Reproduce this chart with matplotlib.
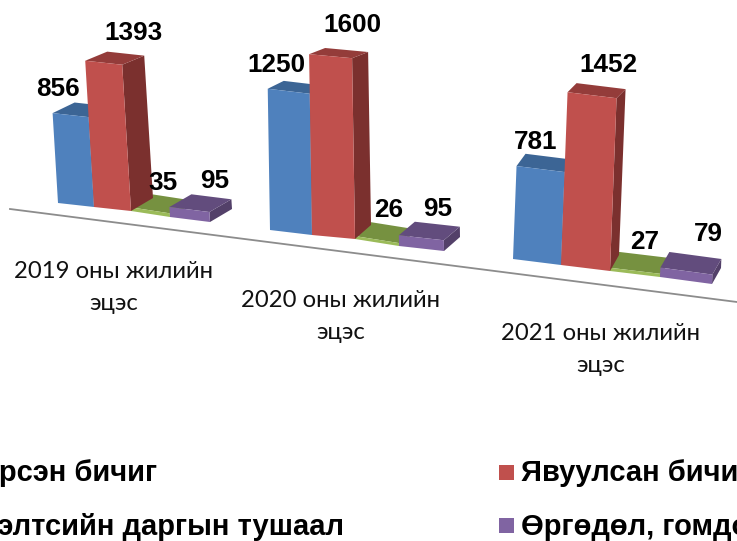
import matplotlib
matplotlib.use("Agg")
import matplotlib.pyplot as plt
from matplotlib.patches import Polygon, Rectangle

# ---- data ----
years = ["2019 оны жилийн\nэцэс", "2020 оны жилийн\nэцэс", "2021 оны жилийн\nэцэс"]
series_names = ["Ирсэн бичиг", "Явуулсан бичиг", "Хэлтсийн даргын тушаал", "Өргөдөл, гомдол"]
received = [856, 1250, 781]
sent = [1393, 1600, 1452]
orders = [35, 26, 27]
complaints = [95, 95, 79]

# ---- styles ----
FRONT = ["#4F81BD", "#C0504D", "#9BBB59", "#8064A2"]
TOP = ["#3C6595", "#943C3A", "#769140", "#624C7D"]
SIDE = ["#33567F", "#7B302E", "#64793A", "#534069"]
SANS = ["Liberation Sans", "DejaVu Sans"]
CAT = ["Lato", "Open Sans", "DejaVu Sans"]

# ---- hand-fitted perspective layout, one entry per group ----
BASE_X = [[58, 94, 131, 170, 210], [270, 312, 355, 399, 444], [513, 561, 610, 660, 712]]
BASE_Y = [[203, 207, 211, 217, 222], [230, 235, 239, 246, 251], [259, 265, 271, 277, 284]]
PX_PER_UNIT = [0.105, 0.113, 0.119]
LEAN = [-0.06, -0.016, 0.038]
DEPTH_X = [22, 16, 9]
DEPTH_Y_LOW = [-13, -14, -16]
DEPTH_Y_HIGH = [-9, -7.5, -10]
LABEL_OFF = [[(-18, -26), (21.5, -30), (12.5, -27), (25, -28.5)],
             [(-15, -26.5), (18.5, -31), (12, -29.5), (16.5, -29)],
             [(-1, -27), (22.5, -30), (10, -29), (22, -37)]]
CAT_POS = [(114, 287.5), (341, 316.5), (601, 349.5)]

fig = plt.figure(figsize=(7.37, 5.41), dpi=100)
ax = fig.add_axes([0, 0, 1, 1])
ax.set_xlim(0, 737)
ax.set_ylim(541, 0)
ax.axis("off")

ax.plot([10, 737], [209, 302], color="#8C8C8C", lw=1.3, zorder=1)

values = [received, sent, orders, complaints]
for g in range(3):
    k, lean = PX_PER_UNIT[g], LEAN[g]
    for s in [0, 2, 1, 3]:
        v = values[s][g]
        h = v * k
        xl, xr = BASE_X[g][s], BASE_X[g][s + 1]
        yl, yr = BASE_Y[g][s], BASE_Y[g][s + 1]
        tl = (xl + lean * h, yl - h)
        tr = (xr + lean * h, yr - h)
        frac = min(h / 150, 1.2)
        dy_top = DEPTH_Y_LOW[g] + (DEPTH_Y_HIGH[g] - DEPTH_Y_LOW[g]) * frac
        dx = DEPTH_X[g]
        dy_low = DEPTH_Y_LOW[g]
        z = 3 + s * 0.1 if s != 2 else 3.05
        ax.add_patch(Polygon([(xr, yr), tr, (tr[0] + dx, tr[1] + dy_top), (xr + dx, yr + dy_low)],
                             closed=True, fc=SIDE[s], ec="none", zorder=z))
        ax.add_patch(Polygon([tl, tr, (tr[0] + dx, tr[1] + dy_top), (tl[0] + dx, tl[1] + dy_top)],
                             closed=True, fc=TOP[s], ec="none", zorder=z))
        ax.add_patch(Polygon([(xl, yl), (xr, yr), tr, tl],
                             closed=True, fc=FRONT[s], ec="none", zorder=z + 0.01))
        ox, oy = LABEL_OFF[g][s]
        cx = (xl + xr) / 2
        ty = (yl + yr) / 2 - h
        ax.text(cx + ox, ty + oy, str(v), ha="center", va="center", fontsize=18.8,
                fontweight="bold", family=SANS, color="black", zorder=6)
    ax.text(CAT_POS[g][0], CAT_POS[g][1], years[g], ha="center", va="center", fontsize=17.2,
            family=CAT, color="#111111", linespacing=1.62, zorder=6)

# legend (runs off both sides of the picture, as in the original)
LEG = 21.0
ax.text(157, 473, series_names[0], ha="right", va="center", fontsize=LEG, fontweight="bold", family=SANS)
ax.text(344, 527, series_names[2], ha="right", va="center", fontsize=LEG, fontweight="bold", family=SANS)
ax.text(521, 473, series_names[1], ha="left", va="center", fontsize=LEG, fontweight="bold", family=SANS)
ax.text(521, 527, series_names[3], ha="left", va="center", fontsize=LEG, fontweight="bold", family=SANS)
ax.add_patch(Rectangle((499, 465), 15, 15, fc=FRONT[1], ec="none"))
ax.add_patch(Rectangle((499, 518), 15, 15, fc=FRONT[3], ec="none"))

fig.savefig("out.png", dpi=100)
